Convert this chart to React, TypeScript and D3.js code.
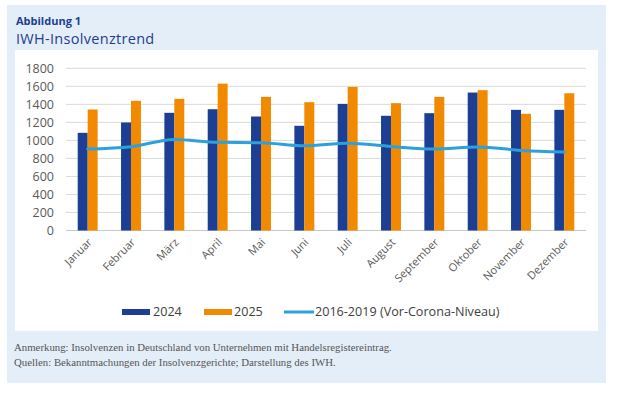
import React from "react";
import * as d3 from "d3";

const months = ["Januar","Februar","März","April","Mai","Juni","Juli","August","September","Oktober","November","Dezember"];
const values2024 = [1084,1199,1306,1346,1265,1162,1405,1273,1302,1531,1339,1339];
const values2025 = [1343,1439,1461,1630,1483,1424,1594,1413,1483,1557,1295,1523];
const preCorona = [904,930,1011,978,974,941,968,933,904,926,889,870];
const yTicks = [0,200,400,600,800,1000,1200,1400,1600,1800];
const seriesNames = ["2024","2025","2016-2019 (Vor-Corona-Niveau)"];

const W = 629, H = 395;
const C_BLUE = "#1c3f94", C_ORANGE = "#f18a00", C_LINE = "#2ca1db";
const FONT = "'Open Sans', sans-serif";

export default function App() {
  const x = d3.scaleBand<string>().domain(months).range([66, 586]).paddingInner(0.54).paddingOuter(0.27);
  const y = d3.scaleLinear().domain([0, 1800]).range([230.5, 68.3]);
  const sub = d3.scaleBand<string>().domain(["a","b"]).range([0, x.bandwidth()]);
  const cx = (m: string) => (x(m) as number) + x.bandwidth() / 2;
  const line = d3.line<number>().x((_, i) => cx(months[i])).y(d => y(d)).curve(d3.curveMonotoneX);

  return (
    <svg width={W} height={H} style={{ position: "absolute", left: 0, top: 0 }} fontFamily={FONT}>
      <rect x={0} y={0} width={W} height={H} fill="#fff" />
      <rect x={7} y={5} width={599} height={378} fill="#e4eef8" />
      <text x={16} y={25} fontSize={11} fontWeight="bold" fill="#1d3f8f">Abbildung 1</text>
      <text x={16} y={43.5} fontSize={14.5} fill="#1d3f8f" letterSpacing={0.3}>IWH-Insolvenztrend</text>
      <rect x={15} y={50} width={583} height={281} fill="#fff" />
      {yTicks.map(t => (
        <g key={t}>
          <line x1={66} x2={586} y1={y(t)} y2={y(t)} stroke={t === 0 ? "#c8c8c8" : "#dadada"} strokeWidth={1} />
          <text x={54} y={y(t)} dy="0.35em" textAnchor="end" fontSize={12.5} fill="#595959">{t}</text>
        </g>
      ))}
      {months.map((m, i) => (
        <g key={m}>
          <rect x={(x(m) as number) + (sub("a") as number)} y={y(values2024[i])} width={sub.bandwidth()} height={y(0) - y(values2024[i])} fill={C_BLUE} />
          <rect x={(x(m) as number) + (sub("b") as number)} y={y(values2025[i])} width={sub.bandwidth()} height={y(0) - y(values2025[i])} fill={C_ORANGE} />
          <text transform={`translate(${cx(m) + 5},${243}) rotate(-45)`} textAnchor="end" fontSize={11} fill="#595959">{m}</text>
        </g>
      ))}
      <path d={line(preCorona) || ""} fill="none" stroke={C_LINE} strokeWidth={3} strokeLinecap="round" />
      <g fontSize={12.6} fill="#404040">
        <rect x={122} y={309} width={28} height={6} fill={C_BLUE} />
        <text x={153} y={312} dy="0.35em">{seriesNames[0]}</text>
        <rect x={204} y={309} width={28} height={6} fill={C_ORANGE} />
        <text x={234} y={312} dy="0.35em">{seriesNames[1]}</text>
        <line x1={284} x2={314} y1={312} y2={312} stroke={C_LINE} strokeWidth={3} />
        <text x={315} y={312} dy="0.35em">{seriesNames[2]}</text>
      </g>
      <g fontFamily="'Liberation Serif', serif" fontSize={10.8} fill="#555">
        <text x={14} y={350.5}>Anmerkung: Insolvenzen in Deutschland von Unternehmen mit Handelsregistereintrag.</text>
        <text x={14} y={365.5}>Quellen: Bekanntmachungen der Insolvenzgerichte; Darstellung des IWH.</text>
      </g>
    </svg>
  );
}
